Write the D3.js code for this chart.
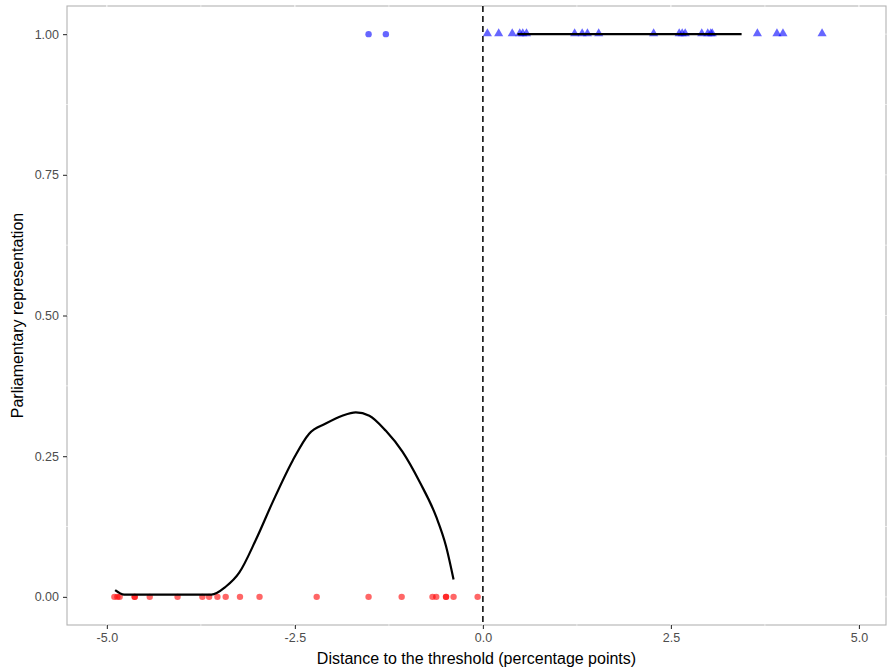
<!DOCTYPE html>
<html>
<head>
<meta charset="utf-8">
<script src="https://cdn.jsdelivr.net/npm/d3@7"></script>
<style>
  body { margin: 0; background: #fff; }
  text { font-family: "Liberation Sans", Arial, sans-serif; }
</style>
</head>
<body>
<div id="chart"></div>
<script>
"use strict";

// red: not represented (below threshold), circles
let redX = [-4.90, -4.86, -4.83, -4.63, -4.63, -4.43, -4.06, -3.73, -3.64, -3.53, -3.42,
  -3.23, -2.97, -2.21, -1.52, -1.08, -0.67, -0.62, -0.49, -0.49, -0.39, -0.07];
// blue circles: represented but below threshold
let blueCircX = [-1.52, -1.29];
// blue triangles: above threshold
let blueTriX = [0.06, 0.21, 0.39, 0.49, 0.53, 0.58, 1.22, 1.32, 1.39, 1.54, 2.27, 2.61,
  2.65, 2.69, 2.91, 2.99, 3.03, 3.05, 3.65, 3.91, 3.99, 4.51];

// smoothed fits
let smoothLeftX = [-4.89, -4.77, -3.61, -3.42, -3.24, -3.02, -2.80, -2.53, -2.31, -2.09,
  -1.87, -1.69, -1.51, -1.29, -1.07, -0.84, -0.62, -0.49, -0.39];
let smoothLeftY = [0.012, 0.004, 0.004, 0.018, 0.043, 0.101, 0.167, 0.242, 0.290, 0.308,
  0.322, 0.328, 0.322, 0.295, 0.258, 0.204, 0.142, 0.090, 0.031];
let smoothRightX = [0.46, 3.44];
let smoothRightY = [1, 1];

let xTicks = [-5, -2.5, 0, 2.5, 5];
let yTicks = [0, 0.25, 0.5, 0.75, 1];

let W = 887, H = 669;
let margin = { top: 6, right: 1, bottom: 44, left: 67 };

let svg = d3.select('#chart').append('svg')
  .attr('width', W)
  .attr('height', H);

let x = d3.scaleLinear().domain([-5.53, 5.36]).range([margin.left, W - margin.right]);
let y = d3.scaleLinear().domain([-0.05, 1.05]).range([H - margin.bottom, margin.top]);

// panel border
svg.append('rect')
  .attr('x', margin.left)
  .attr('y', margin.top)
  .attr('width', W - margin.right - margin.left)
  .attr('height', H - margin.bottom - margin.top)
  .attr('fill', '#fff')
  .attr('stroke', '#b3b3b3')
  .attr('stroke-width', 1.1);

// white gridlines drawn over the border (as in the original)
let grid = svg.append('g');
d3.range(-7.5, 7.6, 1.25).forEach(function (v) {
  if (x(v) > margin.left && x(v) < W - margin.right) {
    grid.append('line')
      .attr('x1', x(v)).attr('x2', x(v))
      .attr('y1', margin.top - 1).attr('y2', H - margin.bottom + 1)
      .attr('stroke', '#fff').attr('stroke-width', v % 2.5 === 0 ? 1 : 0.6);
  }
});
d3.range(-0.125, 1.2, 0.125).forEach(function (v) {
  if (y(v) > margin.top && y(v) < H - margin.bottom) {
    grid.append('line')
      .attr('y1', y(v)).attr('y2', y(v))
      .attr('x1', margin.left - 1).attr('x2', W - margin.right + 1)
      .attr('stroke', '#fff').attr('stroke-width', 0.6);
  }
});

// axes
let xAxis = svg.append('g')
  .attr('transform', 'translate(0,' + (H - margin.bottom) + ')')
  .call(d3.axisBottom(x).tickValues(xTicks).tickFormat(d3.format('.1f')).tickSize(4).tickPadding(4));
let yAxis = svg.append('g')
  .attr('transform', 'translate(' + margin.left + ',0)')
  .call(d3.axisLeft(y).tickValues(yTicks).tickFormat(d3.format('.2f')).tickSize(4).tickPadding(4));
[xAxis, yAxis].forEach(function (a) {
  a.select('.domain').remove();
  a.selectAll('.tick line').attr('stroke', '#333').attr('stroke-width', 1.1);
  a.selectAll('.tick text').attr('fill', '#4d4d4d').style('font-size', '12.5px');
});
xAxis.selectAll('.tick text').text(d => d3.format('.1f')(d).replace('−', '-'));

// threshold line
svg.append('line')
  .attr('x1', x(0)).attr('x2', x(0))
  .attr('y1', margin.top).attr('y2', H - margin.bottom)
  .attr('stroke', '#000')
  .attr('stroke-width', 1.5)
  .attr('stroke-dasharray', '6,4');

// points
let pts = svg.append('g');
pts.selectAll('circle.red').data(redX).enter().append('circle')
  .attr('cx', d => x(d)).attr('cy', y(0)).attr('r', 3.2)
  .attr('fill', 'red').attr('fill-opacity', 0.6);
pts.selectAll('circle.blue').data(blueCircX).enter().append('circle')
  .attr('cx', d => x(d)).attr('cy', y(1)).attr('r', 3.2)
  .attr('fill', 'blue').attr('fill-opacity', 0.6);
let tri = d3.symbol().type(d3.symbolTriangle).size(36);
pts.selectAll('path.tri').data(blueTriX).enter().append('path')
  .attr('d', tri)
  .attr('transform', d => 'translate(' + x(d) + ',' + (y(1) - 0.5) + ')')
  .attr('fill', 'blue').attr('fill-opacity', 0.6);

// smooth lines
let line = d3.line().x(d => x(d[0])).y(d => y(d[1])).curve(d3.curveMonotoneX);
svg.append('path')
  .datum(d3.zip(smoothLeftX, smoothLeftY))
  .attr('d', line)
  .attr('fill', 'none').attr('stroke', '#000').attr('stroke-width', 2.2);
svg.append('path')
  .datum(d3.zip(smoothRightX, smoothRightY))
  .attr('d', line)
  .attr('fill', 'none').attr('stroke', '#000').attr('stroke-width', 2.2);

// axis titles
svg.append('text')
  .attr('x', (margin.left + W - margin.right) / 2)
  .attr('y', H - 5)
  .attr('text-anchor', 'middle')
  .style('font-size', '16px')
  .text('Distance to the threshold (percentage points)');
svg.append('text')
  .attr('transform', 'translate(23,' + ((margin.top + H - margin.bottom) / 2) + ') rotate(-90)')
  .attr('text-anchor', 'middle')
  .style('font-size', '16px')
  .text('Parliamentary representation');
</script>
</body>
</html>
